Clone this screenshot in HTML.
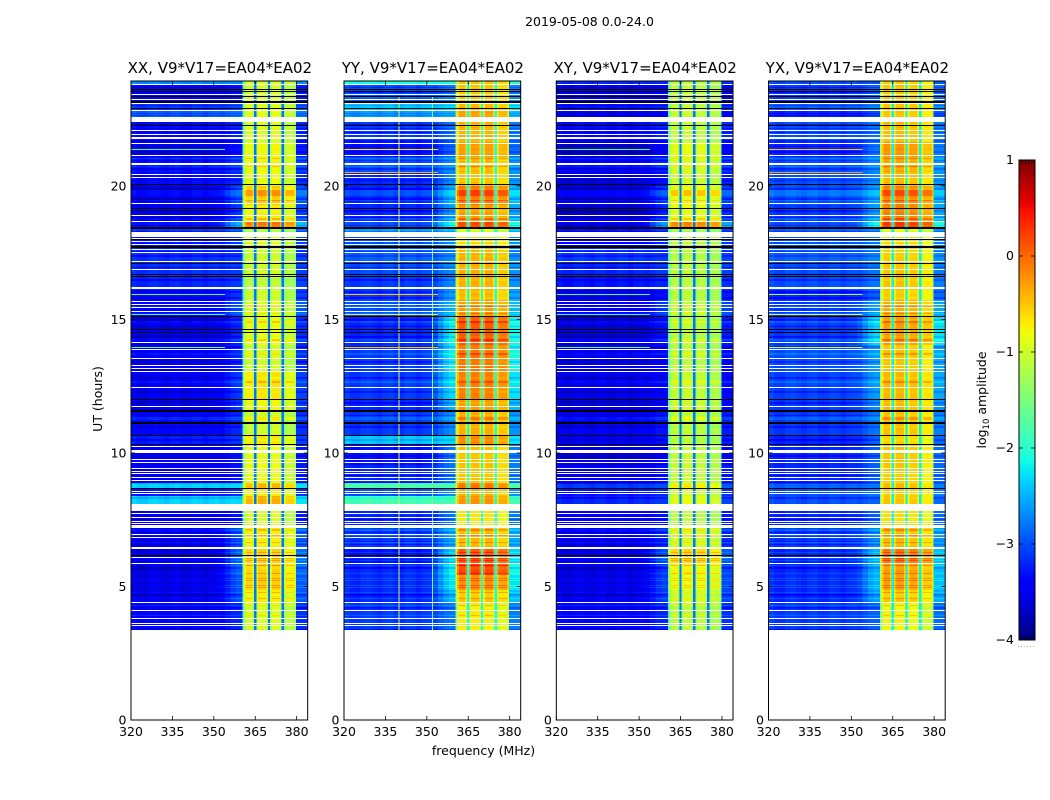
<!DOCTYPE html>
<html lang="en">
<head>
<meta charset="utf-8">
<title>2019-05-08 0.0-24.0</title>
<style>
html,body{margin:0;padding:0;background:#fff;}
body{width:1050px;height:800px;overflow:hidden;}
svg{display:block;}
text{font-family:"DejaVu Sans","Liberation Sans",sans-serif;font-size:12.5px;fill:#000;}
.ttl{font-size:15px;}
</style>
</head>
<body>
<svg id="fig" xmlns="http://www.w3.org/2000/svg" width="1050" height="800" viewBox="0 0 1050 800">
  <rect x="0" y="0" width="1050" height="800" fill="#fff"/>
  <text x="589.5" y="26" text-anchor="middle">2019-05-08 0.0-24.0</text>
  <text transform="translate(102,399) rotate(-90)" text-anchor="middle">UT (hours)</text>
  <text x="483.5" y="755" text-anchor="middle">frequency (MHz)</text>
  <text transform="translate(986,400) rotate(-90)" text-anchor="middle">log<tspan dy="3" font-size="8.5">10</tspan><tspan dy="-3"> amplitude</tspan></text>
</svg>
<script>
// ---- categories and tick labels ----
const panelNames = ['XX', 'YY', 'XY', 'YX'];
const panelTitleSuffix = ', V9*V17=EA04*EA02';
const freqTicks = [320, 335, 350, 365, 380];
const utTicks = [0, 5, 10, 15, 20];
const colorbarTicks = [1, 0, -1, -2, -3, -4];
const colorbarTickLabels = ['1', '0', '\u22121', '\u22122', '\u22123', '\u22124'];

// ---- frequency channels (MHz) ----
const bgChannelEdges = [320,322,324,326,328,330,332,334,336,338,340,342,344,346,348,350,352,354,356,358,360.4];
const channelRipple = [0.05,-0.03,-0.05,0.03,0.05,0,-0.05,0.03,0.05,-0.03,-0.03,0.05,0.03,-0.05,0.03,0.05,-0.03,0,0.03,0];
const shoulderWeight = [0,0,0,0,0,0,0,0,0,0,0,0,0,0,0,0,0.25,0.55,0.8,1];
const bandEdges = [360.4,361,361.6,364,364.6,365.4,366,369,369.6,370.4,371,374,374.6,375.4,376,379.2,379.8];
const bandRole = ['fringe','edge0','core0','edge0','gap','edge1','core1','edge1','gap','edge2','core2','edge2','gap','edge3','core3','edge3'];
const subbandEdgeDrop = 0.3;
const tailEdges = [379.8,384];

// ---- time structure, in scans of 1/26.7 h counted down from the top of the axis ----
const blockScans = [4,11,7,7,12,20,15,15,14,19,17,6,8,10,16,14,14,10,16,29,27,28,11,24,10,20,18,6,7,8,24,20,15,12,15,12,28];
const totalScans = 549;
const whiteScans = [3,13,18,22,29,36,37,38,39,40,49,53,56,57,62,74,82,83,93,96,122,134,140,151,152,153,154,155,157,160,163,168,171,180,188,206,207,220,223,226,230,261,268,277,284,287,290,306,325,365,369,370,371,378,381,387,390,392,396,399,410,412,423,424,425,426,427,428,429,432,436,440,442,444,445,446,453,456,466,467,476,482,521,529,537,542,544];
const blackScans = [8,10,15,20,21,27,44,103,127,146,147,158,165,166,182,193,195,235,248,251,318,329,330,341,342,354,363,407,474];
const brightScans = [62,77,85,109,110,111,112,113,114,119,137,138,225,226,232,240,241,258,259,272,273,300,301,336,337,338,448,449,454,461,466,471,477,479,484,492,497,499,504,506,511,517,524,534];
const dimScans = [6,11,24,32,34,43,47,51,59,60,65,70,71,79,87,88,99,107,108,117,118,129,130,136,144,150,170,174,175,186,198,199,210,211,216,217,238,239,245,255,256,265,266,280,281,296,297,310,311,321,322,334,345,346,358,359,374,375,394,401,402,416,417,438,451,460,463,486,487,513,514,526,527,548];

// ---- log10 amplitude per time block: background, shoulder next to the band, passband ----
const bgXX = [-2.7,-3.4,-3.4,-3.1,-2.9,-3.35,-3.55,-3.3,-3.35,-3.55,-3.55,-3.3,-3.1,-3.3,-3.15,-3.15,-3.2,-3.4,-3.4,-3.55,-3.5,-3.5,-3.55,-3.4,-3.25,-3.45,-3.45,-2.35,-3.3,-2.35,-3.5,-3.5,-3.6,-3.6,-3.6,-3.55,-3.4];
const shXX = [-2.7,-3.3,-3.3,-3.0,-2.8,-3.2,-3.3,-3.1,-3.2,-3.0,-3.1,-2.5,-2.9,-3.1,-3.1,-3.1,-3.1,-3.1,-3.0,-3.2,-3.2,-3.1,-3.1,-3.2,-3.1,-3.3,-3.3,-2.3,-3.2,-2.3,-3.3,-3.0,-2.9,-2.9,-3.0,-3.0,-3.2];
const bandXX = [-1,-1,-1,-0.95,-0.9,-0.95,-0.85,-0.85,-0.9,-0.6,-0.8,-0.15,-1.2,-1,-1.05,-1.05,-1.15,-1.05,-1,-0.9,-1.05,-0.75,-0.85,-1.05,-0.75,-0.9,-0.9,-0.5,-0.8,-0.45,-1,-0.8,-0.65,-0.65,-0.65,-0.8,-1];

const bgYY = [-2.1,-3.0,-2.9,-2.4,-2.6,-3.1,-3.3,-3.0,-3.2,-3.2,-3.2,-3.0,-2.6,-3.0,-2.9,-3.0,-3.1,-3.1,-3.0,-3.2,-3.1,-3.1,-3.2,-3.1,-2.4,-3.3,-3.2,-1.8,-3.0,-1.85,-3.2,-3.1,-3.3,-3.2,-3.2,-3.2,-3.1];
const shYY = [-2.1,-2.8,-2.7,-2.3,-2.5,-2.8,-2.9,-2.7,-2.7,-2.5,-2.6,-2.1,-2.4,-2.7,-2.7,-2.7,-2.7,-2.6,-2.5,-2.2,-2.2,-2.3,-2.5,-2.7,-2.3,-2.8,-2.8,-1.8,-2.7,-1.85,-2.8,-2.6,-2.4,-2.2,-2.3,-2.5,-2.8];
const bandYY = [-0.5,-0.5,-0.5,-0.45,-0.3,-0.4,-0.3,-0.45,-0.5,-0.1,-0.3,0.15,-0.9,-0.6,-0.4,-0.4,-0.4,-0.45,-0.3,0.05,-0.1,-0.15,-0.3,-0.4,-0.2,-0.5,-0.5,-0.1,-0.4,-0.25,-0.7,-0.45,0.05,0.15,-0.25,-0.55,-0.75];

const bgXY = [-3.2,-3.5,-3.5,-3.3,-3.5,-3.35,-3.7,-3.4,-3.6,-3.6,-3.7,-3.5,-3.3,-3.4,-3.1,-3.2,-3.3,-3.5,-3.5,-3.6,-3.55,-3.55,-3.6,-3.5,-3.5,-3.6,-3.5,-3.1,-3.3,-3.2,-3.4,-3.5,-3.6,-3.6,-3.6,-3.55,-3.4];
const shXY = [-3.2,-3.4,-3.4,-3.2,-3.4,-3.2,-3.4,-3.2,-3.3,-3.1,-3.2,-2.6,-3.1,-3.2,-3.1,-3.1,-3.2,-3.3,-3.1,-3.3,-3.4,-3.4,-3.4,-3.3,-3.3,-3.4,-3.3,-3.0,-3.2,-3.1,-3.3,-3.2,-3.0,-3.1,-3.1,-3.1,-3.2];
const bandXY = [-1.1,-1.05,-1.05,-1.05,-1,-1.05,-0.85,-0.95,-1,-0.8,-0.85,-0.15,-1.2,-1.1,-1.1,-1.1,-1.1,-1.1,-1.1,-1.1,-1.1,-1.05,-1,-1.1,-1.1,-1.05,-1.05,-0.7,-1,-0.85,-1.1,-0.95,-0.6,-0.75,-0.85,-1,-1.1];

const bgYX = [-3.0,-3.1,-3.1,-2.9,-3.2,-3.0,-3.2,-3.0,-3.0,-3.0,-3.1,-3.0,-2.9,-3.0,-2.9,-3.0,-3.0,-3.2,-3.1,-3.1,-3.0,-3.05,-3.1,-3.1,-3.2,-3.2,-3.2,-2.9,-3.0,-3.0,-3.2,-3.1,-3.2,-3.2,-3.2,-3.2,-3.1];
const shYX = [-3.0,-2.9,-2.9,-2.7,-3.0,-2.8,-2.8,-2.7,-2.7,-2.6,-2.6,-2.1,-2.7,-2.8,-2.7,-2.8,-2.8,-2.9,-2.6,-2.3,-2.6,-2.6,-2.7,-2.8,-2.9,-2.9,-2.9,-2.8,-2.8,-2.9,-2.9,-2.7,-2.5,-2.5,-2.5,-2.6,-2.9];
const bandYX = [-0.6,-0.55,-0.55,-0.55,-0.55,-0.5,-0.3,-0.4,-0.5,-0.2,-0.2,0.2,-0.9,-0.65,-0.6,-0.55,-0.55,-0.6,-0.45,-0.35,-0.55,-0.5,-0.5,-0.55,-0.65,-0.55,-0.6,-0.5,-0.6,-0.55,-0.7,-0.5,-0.15,-0.35,-0.4,-0.6,-0.85];

const gapLevel = [-2.8,-2.1,-2.8,-2.2];
const subbandOffsetXX = [0.05,0.1,0.1,-0.1];
const subbandOffsetYY = [0.05,0.05,0.05,-0.1];
const subbandOffsetXY = [0,0.05,0,-0.1];
const subbandOffsetYX = [0.1,0.1,0.05,-0.15];

// ---- narrow interference ----
const rfiScans = [68,91,213,233,266];
const rfiLevelXX = [-1.9,null,-1.7,-1.9,-1.7];
const rfiLevelYY = [-0.7,-0.4,-0.5,-0.7,-0.5];
const rfiLevelXY = [-1.8,null,-1.8,-2.0,-1.8];
const rfiLevelYX = [-0.5,-0.3,-1.2,-0.8,-1.0];
const rfiChannelMHz = [340,352];
const rfiChannelLevelYY = [-1.05,-1.5];

// ---- layout / scales ----
const panelLeft = [131,344,556.3,768.5];
const plotW = 176.7, plotTop = 81, plotBottom = 720;
const xMin = 320, xMax = 384, pxPerHour = 26.7;
const scanHours = 1 / pxPerHour;
const utTop = (plotBottom - plotTop) / pxPerHour;
const cbLeft = 1019, cbRight = 1035, cbTop = 160, cbBottom = 640, cbMin = -4, cbMax = 1;

function xScale(p, mhz) { return panelLeft[p] + (mhz - xMin) * plotW / (xMax - xMin); }
function yScale(ut) { return plotBottom - ut * pxPerHour; }
function cbScale(v) { return cbBottom - (v - cbMin) * (cbBottom - cbTop) / (cbMax - cbMin); }

function ramp(f, pts) {
  for (let i = 1; i < pts.length; i++) {
    if (f <= pts[i][0]) {
      const a = pts[i - 1], b = pts[i];
      return a[1] + (b[1] - a[1]) * (f - a[0]) / (b[0] - a[0]);
    }
  }
  return pts[pts.length - 1][1];
}
function jet(v) {
  const f = Math.max(0, Math.min(1, (v - cbMin) / (cbMax - cbMin)));
  const r = ramp(f, [[0,0],[0.35,0],[0.66,1],[0.89,1],[1,0.5]]);
  const g = ramp(f, [[0,0],[0.125,0],[0.375,1],[0.64,1],[0.91,0],[1,0]]);
  const b = ramp(f, [[0,0.5],[0.11,1],[0.34,1],[0.65,0],[1,0]]);
  return 'rgb(' + Math.round(r * 255) + ',' + Math.round(g * 255) + ',' + Math.round(b * 255) + ')';
}

const NS = 'http://www.w3.org/2000/svg';
const fig = document.getElementById('fig');
function mk(parent, tag, attrs, txt) {
  const el = document.createElementNS(NS, tag);
  for (const k in attrs) el.setAttribute(k, attrs[k]);
  if (txt !== undefined) el.textContent = txt;
  parent.appendChild(el);
  return el;
}

// scan -> block lookup
const scanBlock = [];
blockScans.forEach(function (n, b) { for (let i = 0; i < n; i++) scanBlock.push(b); });
function scanUT(s) { return utTop - s * scanHours; }
function scanTone(s) { return brightScans.includes(s) ? 1 : (dimScans.includes(s) ? -1 : 0); }

const bgSets = [bgXX, bgYY, bgXY, bgYX];
const shSets = [shXX, shYY, shXY, shYX];
const bandSets = [bandXX, bandYY, bandXY, bandYX];
const subSets = [subbandOffsetXX, subbandOffsetYY, subbandOffsetXY, subbandOffsetYX];
const rfiSets = [rfiLevelXX, rfiLevelYY, rfiLevelXY, rfiLevelYX];

function drawCell(g, p, m0, m1, s0, s1, v) {
  const x0 = xScale(p, m0), x1 = xScale(p, m1), y0 = Math.round(yScale(scanUT(s0))), y1 = Math.round(yScale(scanUT(s1)));
  const el = mk(g, 'rect', { x: x0, y: y0, width: x1 - x0, height: y1 - y0, fill: jet(v), 'shape-rendering': 'crispEdges' });
  
  
}

panelNames.forEach(function (name, p) {
  const panel = mk(fig, 'g', {});
  
  

  const hm = mk(panel, 'g', {});
  
  

  // merge neighbouring scans that share a block and tone
  let s = 0;
  while (s < totalScans) {
    if (whiteScans.includes(s) || blackScans.includes(s)) { s++; continue; }
    const b = scanBlock[s], tone = scanTone(s);
    let e = s + 1;
    while (e < totalScans && scanBlock[e] === b && scanTone(e) === tone &&
           !whiteScans.includes(e) && !blackScans.includes(e)) e++;
    const bg = bgSets[p][b] + tone * 0.2;
    const sh = shSets[p][b] + tone * 0.2;
    const band = bandSets[p][b] + (tone > 0 ? 0.3 : tone * 0.08);
    for (let c = 0; c < channelRipple.length; c++) {
      const w = shoulderWeight[c];
      drawCell(hm, p, bgChannelEdges[c], bgChannelEdges[c + 1], s, e, bg + (sh - bg) * w + channelRipple[c]);
    }
    for (let c = 0; c < bandRole.length; c++) {
      const role = bandRole[c];
      let v;
      if (role === 'gap') v = gapLevel[p];
      else if (role === 'fringe') v = band - 0.8;
      else v = band + subSets[p][Number(role.slice(-1))] - (role.indexOf('edge') === 0 ? subbandEdgeDrop : 0);
      drawCell(hm, p, bandEdges[c], bandEdges[c + 1], s, e, v);
    }
    drawCell(hm, p, tailEdges[0], tailEdges[1], s, e, sh + 0.05);
    s = e;
  }

  // vertical interference channels (YY only)
  if (name === 'YY') {
    rfiChannelMHz.forEach(function (m, i) {
      const line = mk(hm, 'rect', { x: xScale(p, m) - 0.5, y: yScale(scanUT(15)), width: 1, height: yScale(scanUT(totalScans)) - yScale(scanUT(15)), fill: jet(rfiChannelLevelYY[i]), 'shape-rendering': 'crispEdges' });
      
      
    });
  }
  // horizontal interference scans
  rfiScans.forEach(function (sc, i) {
    const lv = rfiSets[p][i];
    if (lv === null) return;
    const line = mk(hm, 'rect', { x: xScale(p, 320), y: Math.round(yScale(scanUT(sc))), width: xScale(p, 354) - xScale(p, 320), height: 1, fill: jet(lv), 'shape-rendering': 'crispEdges' });
    
    
  });
  // flagged scans
  whiteScans.forEach(function (sc) {
    const r = mk(hm, 'rect', { x: xScale(p, xMin), y: Math.round(yScale(scanUT(sc))), width: plotW, height: 1, fill: '#fff', 'shape-rendering': 'crispEdges' });
    
    
  });
  blackScans.forEach(function (sc) {
    const r = mk(hm, 'rect', { x: xScale(p, xMin), y: Math.round(yScale(scanUT(sc))), width: plotW, height: 1, fill: '#000', 'shape-rendering': 'crispEdges' });
    
    
  });

  // frame
  const frame = mk(panel, 'rect', { x: panelLeft[p], y: plotTop, width: plotW, height: plotBottom - plotTop, fill: 'none', stroke: '#000', 'stroke-width': 1 });
  
  

  // x ticks
  freqTicks.forEach(function (t) {
    const x = xScale(p, t);
    const t1 = mk(panel, 'line', { x1: x, x2: x, y1: plotBottom, y2: plotBottom - 4, stroke: '#000', 'stroke-width': 0.8 });
    
    
    const t2 = mk(panel, 'line', { x1: x, x2: x, y1: plotTop, y2: plotTop + 4, stroke: '#000', 'stroke-width': 0.8 });
    
    
    const lb = mk(panel, 'text', { x: x, y: 736, 'text-anchor': 'middle' }, String(t));
    
    
  });
  // y ticks
  utTicks.forEach(function (t) {
    const y = yScale(t);
    const t1 = mk(panel, 'line', { x1: panelLeft[p], x2: panelLeft[p] + 4, y1: y, y2: y, stroke: '#000', 'stroke-width': 0.8 });
    
    
    const t2 = mk(panel, 'line', { x1: panelLeft[p] + plotW, x2: panelLeft[p] + plotW - 4, y1: y, y2: y, stroke: '#000', 'stroke-width': 0.8 });
    
    
    const lb = mk(panel, 'text', { x: panelLeft[p] - 4.5, y: y + 4.5, 'text-anchor': 'end' }, String(t));
    
    
  });
  // title
  const tt = mk(panel, 'text', { x: panelLeft[p] + plotW / 2 + 0.5, y: 73, 'text-anchor': 'middle', 'class': 'ttl' }, name + panelTitleSuffix);
  
  
});

// ---- colorbar ----
const cb = mk(fig, 'g', {});


for (let y = cbTop; y < cbBottom; y += 2) {
  const v = cbMin + (cbBottom - y - 1) * (cbMax - cbMin) / (cbBottom - cbTop);
  const r = mk(cb, 'rect', { x: cbLeft, y: y, width: cbRight - cbLeft, height: 2, fill: jet(v), 'shape-rendering': 'crispEdges' });
  
  
}
const cbFrame = mk(cb, 'rect', { x: cbLeft, y: cbTop, width: cbRight - cbLeft, height: cbBottom - cbTop, fill: 'none', stroke: '#000', 'stroke-width': 1 });


colorbarTicks.forEach(function (v, i) {
  const y = cbScale(v);
  const a = mk(cb, 'line', { x1: cbLeft, x2: cbLeft + 4, y1: y, y2: y, stroke: '#000', 'stroke-width': 0.8 });
  
  
  const c = mk(cb, 'line', { x1: cbRight, x2: cbRight - 4, y1: y, y2: y, stroke: '#000', 'stroke-width': 0.8 });
  
  
  const lb = mk(cb, 'text', { x: 1014, y: y + 4, 'text-anchor': 'end' }, colorbarTickLabels[i]);
  
  
});
[1022.2, 1025.4, 1028.6, 1031.8].forEach(function (x) {
  const a = mk(cb, 'line', { x1: x, x2: x, y1: cbTop, y2: cbTop + 4, stroke: '#000', 'stroke-width': 0.8 });
  
  
  const c = mk(cb, 'line', { x1: x, x2: x, y1: cbBottom, y2: cbBottom - 4, stroke: '#000', 'stroke-width': 0.8 });
  
  
});
[1018, 1021, 1024, 1027, 1030, 1033].forEach(function (x) {
  const d = mk(cb, 'rect', { x: x, y: 646, width: 1, height: 1, fill: '#aaa' });
  
  
});
</script>
</body>
</html>
